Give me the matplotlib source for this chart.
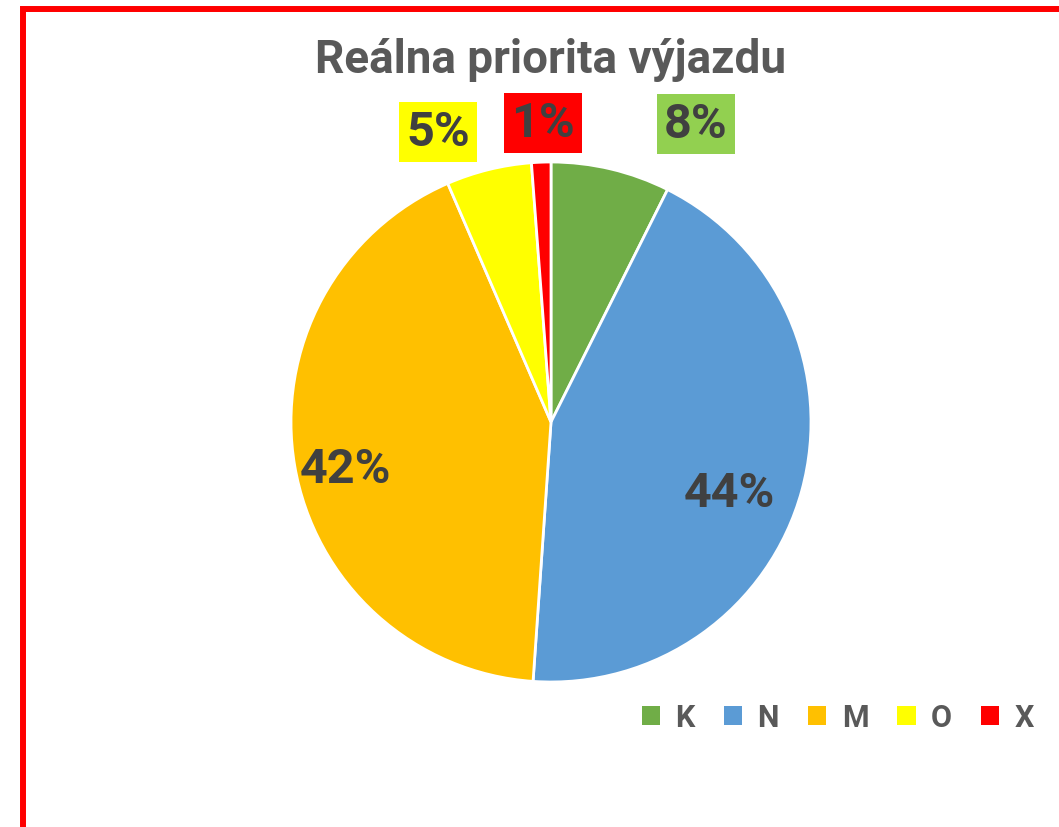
import matplotlib
matplotlib.use("Agg")
from matplotlib import pyplot
from matplotlib import patches

categories = ["K", "N", "M", "O", "X"]
shares = [7.4, 43.7, 42.4, 5.3, 1.2]
label_texts = ["8%", "44%", "42%", "5%", "1%"]
colors = ["#70AD47", "#5B9BD5", "#FFC000", "#FFFF00", "#FF0000"]
label_boxes = ["#92D050", None, None, "#FFFF00", "#FF0000"]
# label positions in pie units (radius = 1)
label_pos = [(0.558, 1.146), (0.688, -0.273), (-0.792, -0.181), (-0.435, 1.115), (-0.031, 1.15)]

FONT = "Roboto"

fig = pyplot.figure(figsize=(10.59, 8.28), dpi=100)
fig.patch.set_facecolor("white")

# red frame (right and bottom edges fall outside the picture)
frame = patches.Rectangle((23 / 1059, -0.05), 1.2, 1 - 9.5 / 828 + 0.05,
                          transform=fig.transFigure, fill=False,
                          edgecolor="#FF0000", linewidth=4.3, clip_on=False)
fig.patches.append(frame)

ax = fig.add_axes([(551 - 260) / 1059, (828 - 423 - 260) / 828, 520 / 1059, 520 / 828])
wedges, _ = ax.pie(shares, colors=colors, startangle=90, counterclock=False,
                   radius=1, wedgeprops=dict(edgecolor="white", linewidth=2))
ax.set_xlim(-1, 1)
ax.set_ylim(-1, 1)
ax.set_aspect("equal")
ax.axis("off")

for txt, (x, y), box in zip(label_texts, label_pos, label_boxes):
    kw = {}
    if box:
        kw["bbox"] = dict(boxstyle="square,pad=0.15", facecolor=box, edgecolor="none")
    ax.text(x, y, txt, ha="center", va="center", fontsize=35, fontweight="bold",
            color="#404040", family=FONT, clip_on=False, **kw)

fig.text(551 / 1059, 1 - 60 / 828, "Reálna priorita výjazdu", ha="center", va="center",
         fontsize=33, fontweight="bold", color="#595959", family=FONT)

leg = fig.legend(wedges, categories, loc="center", bbox_to_anchor=(838 / 1059, 1 - 718 / 828),
                 ncol=5, frameon=False, handlelength=0.6, handleheight=0.6,
                 handletextpad=0.5, columnspacing=0.95,
                 prop=dict(family=FONT, weight="bold", size=22))
for t in leg.get_texts():
    t.set_color("#595959")
for h in leg.legend_handles:
    h.set_edgecolor("none")

fig.savefig("out.png", dpi=100)
